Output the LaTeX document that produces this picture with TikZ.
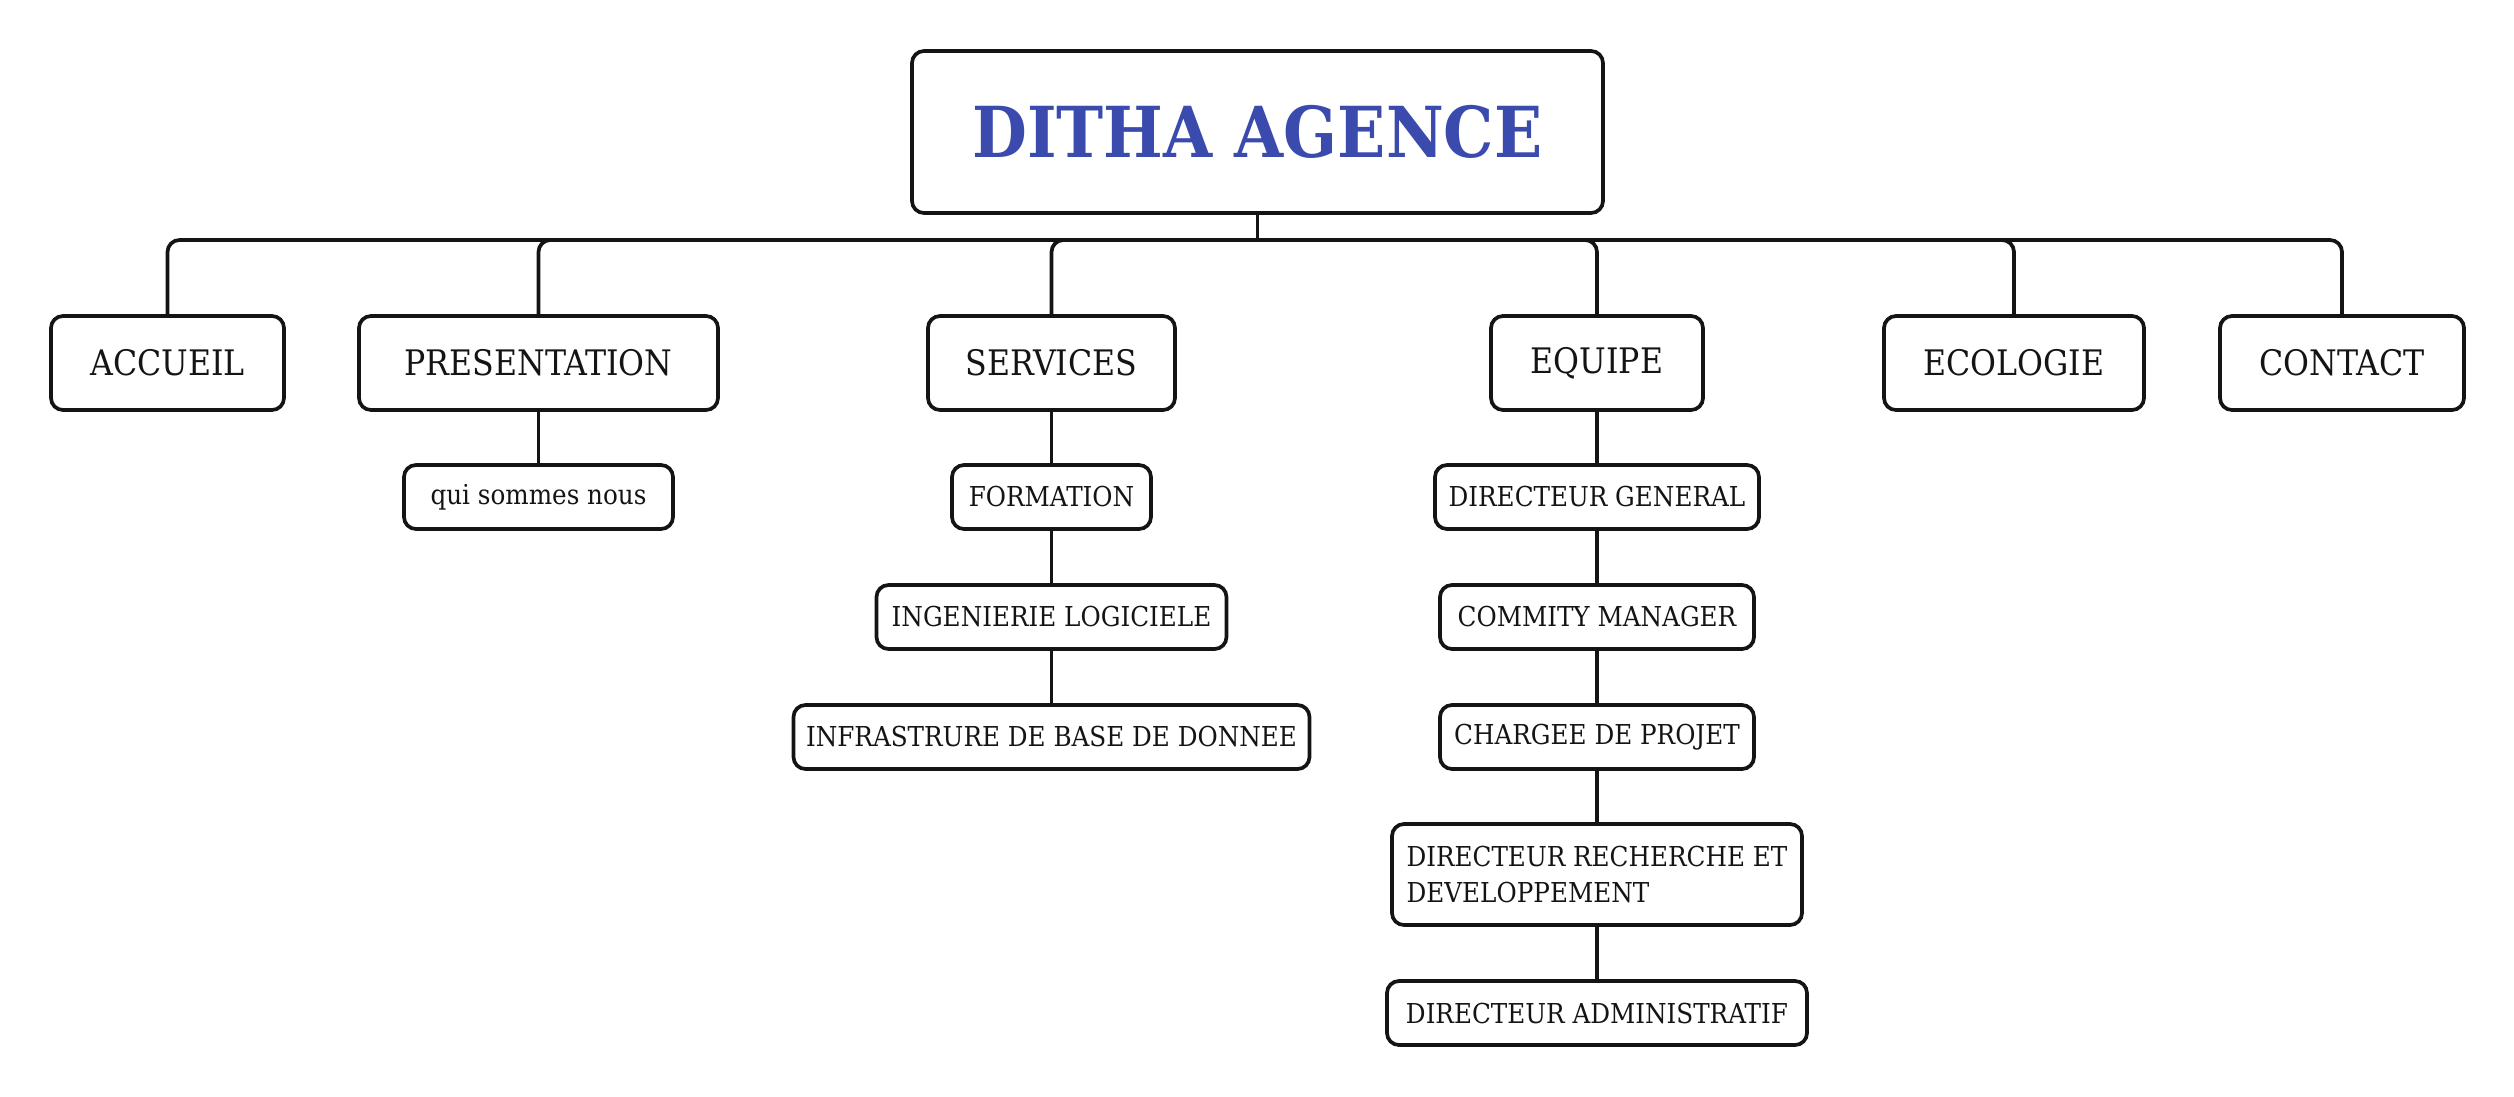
\documentclass[tikz,border=0pt]{standalone}
\usepackage{fontspec}
\setmainfont{DejaVu Serif Condensed}
\definecolor{titleblue}{HTML}{3A4AAD}
\definecolor{inkblack}{HTML}{141414}
\tikzset{
  topic/.style={draw=inkblack, text=inkblack, line width=1.05pt, rounded corners=0.12cm, align=center, inner sep=0pt},
  mainbox/.style={topic, minimum height=0.94cm, font=\fontsize{10}{12}\selectfont},
  subbox/.style={topic, minimum height=0.64cm, font=\fontsize{7.8}{10.5}\selectfont},
  branch/.style={draw=inkblack, line width=1.05pt},
}

\begin{document}
\begin{tikzpicture}
  \useasboundingbox (0,0) rectangle (25.14,-10.96);
  \node[topic, minimum width=6.91cm, minimum height=1.62cm, text=titleblue,
    font=\bfseries\fontsize{20}{24}\selectfont] (Agence) at (12.575,-1.32) {DITHA AGENCE};
  \coordinate (Bus) at (12.575,-2.40);

  \node[mainbox, minimum width=2.33cm] (Accueil)      at (1.675,-3.63)  {ACCUEIL};
  \node[mainbox, minimum width=3.59cm] (Presentation) at (5.385,-3.63)  {PRESENTATION};
  \node[mainbox, minimum width=2.47cm] (Services)     at (10.515,-3.63) {SERVICES};
  \node[mainbox, minimum width=2.12cm] (Equipe)       at (15.97,-3.63)  {EQUIPE};
  \node[mainbox, minimum width=2.60cm] (Ecologie)     at (20.14,-3.63)  {ECOLOGIE};
  \node[mainbox, minimum width=2.44cm] (Contact)      at (23.42,-3.63)  {CONTACT};

  \node[subbox, minimum width=2.69cm] (Qui)        at (5.385,-4.97)  {qui sommes nous};
  \node[subbox, minimum width=1.99cm] (Formation)  at (10.515,-4.97) {FORMATION};
  \node[subbox, minimum width=3.50cm] (Ingenierie) at (10.515,-6.17) {INGENIERIE LOGICIELE};
  \node[subbox, minimum width=5.16cm] (Infra)      at (10.515,-7.37) {INFRASTRURE DE BASE DE DONNEE};

  \node[subbox, minimum width=3.24cm] (DirGen)   at (15.97,-4.97)  {DIRECTEUR GENERAL};
  \node[subbox, minimum width=3.14cm] (Commity)  at (15.97,-6.17)  {COMMITY MANAGER};
  \node[subbox, minimum width=3.14cm] (Chargee)  at (15.97,-7.37)  {CHARGEE DE PROJET};
  \node[subbox, minimum width=4.10cm, minimum height=1.01cm, align=left] (DirRD) at (15.97,-8.745)
    {DIRECTEUR RECHERCHE ET\\DEVELOPPEMENT};
  \node[subbox, minimum width=4.20cm] (DirAdmin) at (15.97,-10.13) {DIRECTEUR ADMINISTRATIF};

  \draw[branch] (Agence.south) -- (Bus);
  \foreach \n in {Accueil,Presentation,Services,Equipe,Ecologie,Contact}
    \draw[branch, rounded corners=0.12cm] (Bus) -| (\n.north);
  \draw[branch] (Presentation) -- (Qui);
  \draw[branch] (Services) -- (Formation) -- (Ingenierie) -- (Infra);
  \draw[branch] (Equipe) -- (DirGen) -- (Commity) -- (Chargee) -- (DirRD) -- (DirAdmin);
\end{tikzpicture}
\end{document}
